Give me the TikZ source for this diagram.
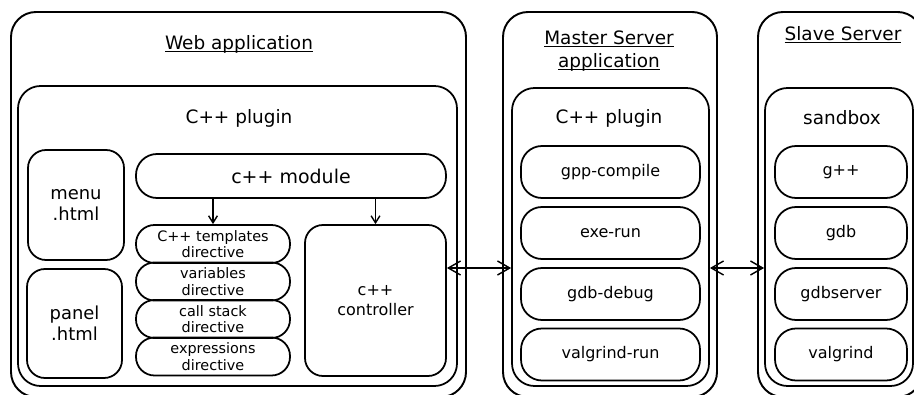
\documentclass[tikz,border=0pt]{standalone}
\usepackage{fontspec}
\setmainfont{DejaVu Sans}
\usepackage{tikz}
\usetikzlibrary{positioning,calc,arrows.meta}

\newcommand{\undertext}[1]{\underline{\smash{#1}}}

\tikzset{
  appbox/.style={draw, line width=1.1pt, rounded corners=0.5cm, inner sep=0pt},
  plugbox/.style={draw, line width=1pt, rounded corners=0.45cm, inner sep=0pt},
  htmlbox/.style={draw, line width=1pt, rounded corners=0.36cm, minimum width=1.92cm, minimum height=2.2cm, align=center, font=\fontsize{10.2}{12}\selectfont},
  dirbox/.style={draw, line width=1pt, rounded corners=0.37cm, minimum width=3.08cm, minimum height=0.76cm, inner sep=0pt, align=center, font=\fontsize{8.2}{9.5}\selectfont},
  itembox/.style={draw, line width=1pt, rounded corners=0.42cm, minimum height=1.04cm, font=\fontsize{9.1}{11}\selectfont},
  headtxt/.style={font=\fontsize{10.5}{13}\selectfont, align=center},
  biarrow/.style={{Straight Barb[length=7pt,width=8pt]}-{Straight Barb[length=7pt,width=8pt]}, line width=0.8pt},
  downarrow/.style={-{Straight Barb[length=4pt,width=5pt]}, line width=0.8pt}
}

\begin{document}
\begin{tikzpicture}
    \useasboundingbox (0,0) rectangle (18.28,7.88);
    \clip (0,0) rectangle (18.28,7.88);
    % Web application
    \node[appbox, minimum width=9.1cm, minimum height=7.7cm] (web) at (4.77,3.79) {};
    \node[headtxt] (webtitle) at (4.78,6.86) {\undertext{Web application}};
    \node[plugbox, minimum width=8.78cm, minimum height=6cm] (wplug) at (4.75,3.16) {};
    \node[headtxt] (wplugtitle) at (4.78,5.52) {C++ plugin};
    % html pages
    \node[htmlbox] (menu) at (1.52,3.78) {menu\\.html};
    \node[htmlbox, minimum width=1.9cm, minimum height=2.18cm] (panel) at (1.49,1.41) {panel\\.html};
    % module, directives and controller
    \node[draw, line width=1pt, rounded corners=0.42cm, minimum width=6.2cm, minimum height=0.88cm,
          font=\fontsize{10.8}{13}\selectfont] (module) at (5.82,4.36) {c++ module};
    \node[dirbox] (tpl) at (4.26,3.0) {C++ templates\\directive};
    \node[dirbox] (vars) at (4.26,2.25) {variables\\directive};
    \node[dirbox] (stack) at (4.26,1.5) {call stack\\directive};
    \node[dirbox] (expr) at (4.26,0.75) {expressions\\directive};
    \node[draw, line width=1pt, rounded corners=0.36cm, minimum width=2.82cm, minimum height=3.02cm,
          align=center, font=\fontsize{9.1}{11}\selectfont] (ctrl) at (7.51,1.87) {c++\\controller};
    \draw[downarrow] (module.south -| tpl.north) -- (tpl.north);
    \draw[downarrow] (module.south -| ctrl.north) -- (ctrl.north);
    % Master server
    \node[appbox, minimum width=4.28cm, minimum height=7.7cm] (master) at (12.2,3.79) {};
    \node[headtxt] (mastertitle) at (12.18,6.73) {\undertext{Master Server}\\\undertext{application}};
    \node[plugbox, minimum width=3.94cm, minimum height=5.96cm] (mplug) at (12.21,3.14) {};
    \node[headtxt] (mplugtitle) at (12.18,5.52) {C++ plugin};
    \node[itembox, minimum width=3.58cm] (compile) at (12.21,4.44) {gpp-compile};
    \node[itembox, minimum width=3.58cm] (exerun) at (12.21,3.22) {exe-run};
    \node[itembox, minimum width=3.58cm] (debug) at (12.21,2.0) {gdb-debug};
    \node[itembox, minimum width=3.58cm] (vgrun) at (12.21,0.79) {valgrind-run};
    % Slave server
    \node[appbox, minimum width=3.29cm, minimum height=7.7cm] (slave) at (16.805,3.79) {};
    \node[headtxt] (slavetitle) at (16.86,7.04) {\undertext{Slave Server}};
    \node[plugbox, minimum width=2.96cm, minimum height=5.96cm] (splug) at (16.78,3.14) {};
    \node[headtxt] (splugtitle) at (16.84,5.52) {sandbox};
    \node[itembox, minimum width=2.64cm] (gpp) at (16.82,4.44) {g++};
    \node[itembox, minimum width=2.64cm] (gdb) at (16.82,3.22) {gdb};
    \node[itembox, minimum width=2.64cm] (gdbsrv) at (16.82,2.0) {gdbserver};
    \node[itembox, minimum width=2.64cm] (vg) at (16.82,0.79) {valgrind};
    % Links
    \coordinate (link) at ([yshift=0.65cm]ctrl.east);
    \draw[biarrow] (link) -- (link -| mplug.west);
    \draw[biarrow] (link -| mplug.east) -- (link -| splug.west);
\end{tikzpicture}
\end{document}
